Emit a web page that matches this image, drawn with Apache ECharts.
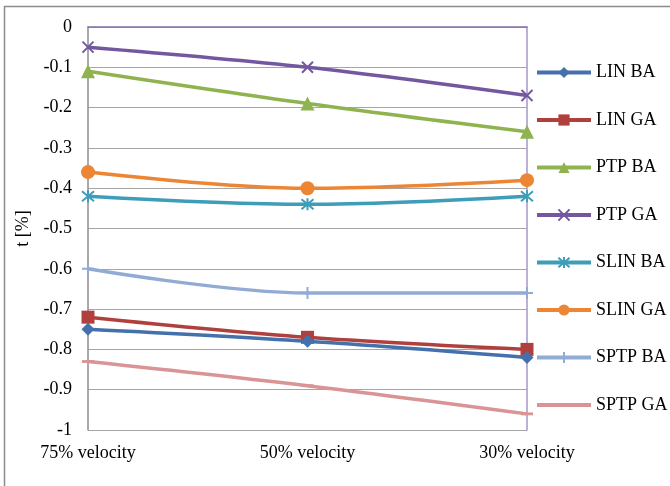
<!DOCTYPE html>
<html>
<head>
<meta charset="utf-8">
<script src="https://cdn.jsdelivr.net/npm/echarts@6/dist/echarts.min.js"></script>
<style>
  html, body { margin: 0; padding: 0; background: #fff; }
  #chart { width: 670px; height: 486px; }
</style>
</head>
<body>
<div id="chart"></div>
<script>
// Categories along the x axis
const categories = ['75% velocity', '50% velocity', '30% velocity'];

// Series values, t [%]
const linBA  = [-0.75, -0.78, -0.82];
const linGA  = [-0.72, -0.77, -0.80];
const ptpBA  = [-0.11, -0.19, -0.26];
const ptpGA  = [-0.05, -0.10, -0.17];
const slinBA = [-0.42, -0.44, -0.42];
const slinGA = [-0.36, -0.40, -0.38];
const sptpBA = [-0.60, -0.66, -0.66];
const sptpGA = [-0.83, -0.89, -0.96];

const seriesNames = ['LIN BA', 'LIN GA', 'PTP BA', 'PTP GA', 'SLIN BA', 'SLIN GA', 'SPTP BA', 'SPTP GA'];
const seriesData = [linBA, linGA, ptpBA, ptpGA, slinBA, slinGA, sptpBA, sptpGA];

// Y axis range
const yMin = -1;
const yMax = 0;
const yStep = 0.1;

const FONT = '"Liberation Serif", "Times New Roman", serif';

// Marker shapes: cross, asterisk, plus and a thin dash
const CROSS = 'path://M0,0L10,10M10,0L0,10';
const STAR = 'path://M0,0L10,10M10,0L0,10M5,-1L5,11';
const PLUS = 'path://M5,0L5,10M0,5L10,5';
const DASH = 'path://M0,0L0,0M0,3.8L10,3.8L10,6.2L0,6.2ZM10,10L10,10';

const styles = [
  { color: '#4471AB', symbol: 'diamond', size: 13 },
  { color: '#B0403D', symbol: 'rect', size: 13 },
  { color: '#8FB34E', symbol: 'triangle', size: 14 },
  { color: '#7358A0', symbol: CROSS, size: 11, stroke: true },
  { color: '#3E9DB8', symbol: STAR, size: 12, stroke: true },
  { color: '#EC8634', symbol: 'circle', size: 14 },
  { color: '#91ABD5', symbol: PLUS, size: 12, stroke: true },
  { color: '#D99495', symbol: DASH, size: 12 }
];

const series = seriesNames.map((name, i) => {
  const s = styles[i];
  return {
    name: name,
    type: 'line',
    data: seriesData[i],
    smooth: 0.35,
    symbol: s.symbol,
    symbolSize: s.size,
    showAllSymbol: true,
    lineStyle: { color: s.color, width: 3.5 },
    itemStyle: s.stroke
      ? { color: 'transparent', borderColor: s.color, borderWidth: 2 }
      : { color: s.color, borderWidth: 0 },
    emphasis: { disabled: true },
    z: 10 - i
  };
});

const chart = echarts.init(document.getElementById('chart'), null, { renderer: 'canvas' });

chart.setOption({
  backgroundColor: '#ffffff',
  animation: false,
  graphic: [{
    type: 'rect',
    shape: { x: 4.5, y: 6.5, width: 700, height: 520 },
    style: { fill: 'none', stroke: '#8c8c8c', lineWidth: 1.5 },
    silent: true,
    z: -1
  }],
  grid: { left: 88, right: 143, top: 27, bottom: 56, containLabel: false },
  legend: {
    orient: 'vertical',
    left: 535,
    top: 62.5,
    padding: 0,
    itemWidth: 54,
    itemHeight: 14,
    itemGap: 27.5,
    itemTextGap: 3,
    lineStyle: { width: 4 },
    textStyle: { fontFamily: FONT, fontSize: 18, color: '#000', lineHeight: 20, padding: [0, 0, 0, 0] },
    data: seriesNames
  },
  xAxis: {
    type: 'category',
    data: categories,
    boundaryGap: false,
    axisLine: { show: true, lineStyle: { color: '#8470A8', width: 1.5 } },
    axisTick: { show: false },
    axisLabel: { fontFamily: FONT, fontSize: 18, color: '#000', margin: 14 },
    splitLine: { show: false }
  },
  yAxis: [{
    type: 'value',
    min: yMin,
    max: yMax,
    interval: yStep,
    name: 't [%]',
    nameLocation: 'middle',
    nameRotate: 90,
    nameGap: 52,
    nameTextStyle: { fontFamily: FONT, fontSize: 18, color: '#000' },
    axisLine: { show: true, lineStyle: { color: '#8c8c8c', width: 1.5 } },
    axisTick: { show: false },
    axisLabel: {
      fontFamily: FONT, fontSize: 18, color: '#000', margin: 16,
      formatter: v => String(Math.round(v * 10) / 10)
    },
    splitLine: { show: true, lineStyle: { color: '#a6a6a6', width: 1 } }
  }, {
    type: 'value',
    min: yMin,
    max: yMax,
    interval: yStep,
    position: 'right',
    axisLine: { show: true, lineStyle: { color: '#A894CC', width: 1.5 } },
    axisTick: { show: false },
    axisLabel: { show: false },
    splitLine: { show: false }
  }],
  series: series
});
</script>
</body>
</html>
